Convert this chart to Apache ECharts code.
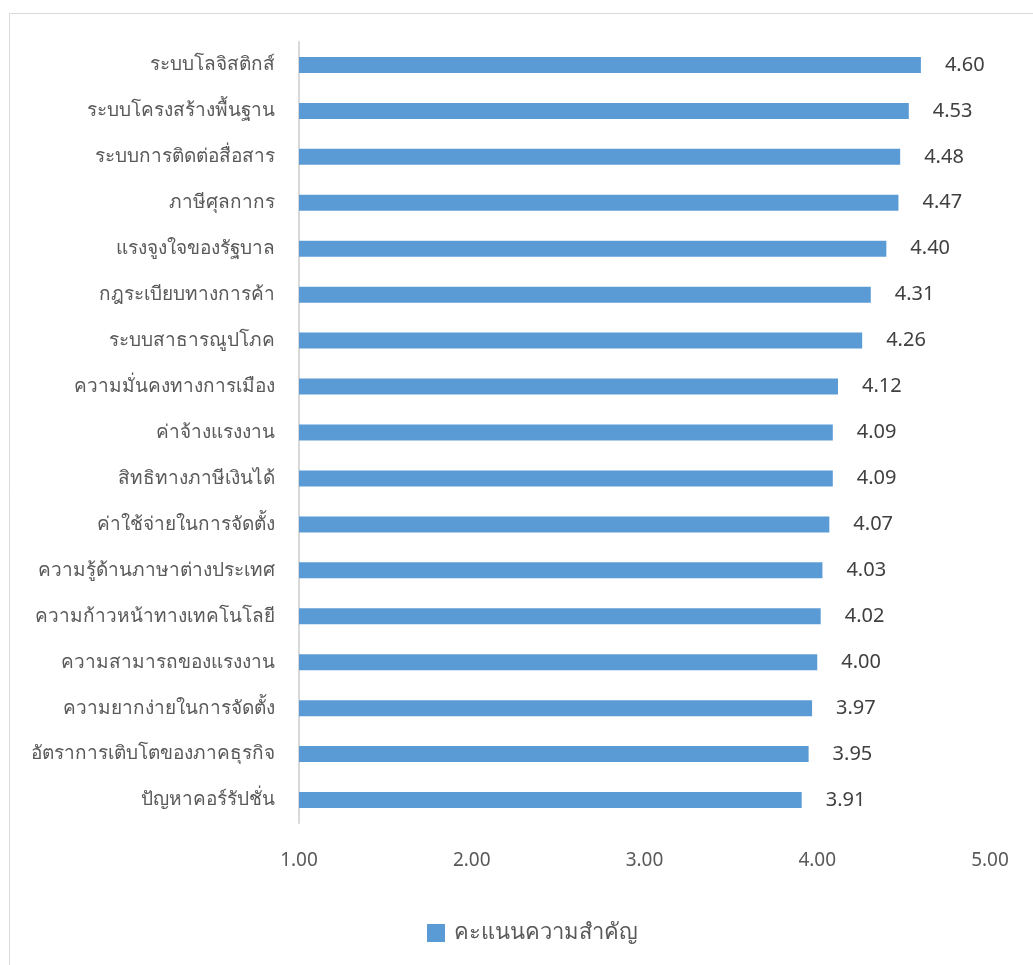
<!DOCTYPE html>
<html><head><meta charset="utf-8">
<script src="https://cdn.jsdelivr.net/npm/echarts@6/dist/echarts.min.js"></script>
<style>html,body{margin:0;padding:0;background:#fff;}#c{width:1033px;height:965px;}</style>
</head><body><div id="c"></div>
<script>
const categories = ['ระบบโลจิสติกส์','ระบบโครงสร้างพื้นฐาน','ระบบการติดต่อสื่อสาร','ภาษีศุลกากร','แรงจูงใจของรัฐบาล','กฎระเบียบทางการค้า','ระบบสาธารณูปโภค','ความมั่นคงทางการเมือง','ค่าจ้างแรงงาน','สิทธิทางภาษีเงินได้','ค่าใช้จ่ายในการจัดตั้ง','ความรู้ด้านภาษาต่างประเทศ','ความก้าวหน้าทางเทคโนโลยี','ความสามารถของแรงงาน','ความยากง่ายในการจัดตั้ง','อัตราการเติบโตของภาคธุรกิจ','ปัญหาคอร์รัปชั่น'];
const values = [4.60,4.53,4.48,4.47,4.40,4.31,4.26,4.12,4.09,4.09,4.07,4.03,4.02,4.00,3.97,3.95,3.91];
const seriesName = 'คะแนนความสำคัญ';
const xTicks = [1,2,3,4,5];
const font = '"Noto Sans", "Noto Sans CJK SC", "DejaVu Sans", sans-serif';
const chart = echarts.init(document.getElementById('c'));
chart.setOption({
  animation:false,
  textStyle:{fontFamily:font},
  graphic:[{type:'rect',shape:{x:9.5,y:13.5,width:1040,height:970},style:{fill:'none',stroke:'#d9d9d9',lineWidth:1},silent:true,z:-1}],
  grid:{left:299,right:43,top:42,height:781,containLabel:false},
  legend:{bottom:16,left:422,itemWidth:18,itemHeight:18,itemGap:10,icon:'rect',
    textStyle:{fontSize:22,color:'#595959',fontFamily:font,padding:[0,0,0,4]},data:[seriesName]},
  xAxis:{type:'value',min:xTicks[0],max:xTicks[xTicks.length-1],interval:1,
    axisLine:{show:false},axisTick:{show:false},splitLine:{show:false},
    axisLabel:{formatter:v=>v.toFixed(2),fontSize:19,color:'#595959',margin:28}},
  yAxis:{type:'category',inverse:true,data:categories,
    axisLine:{show:true,lineStyle:{color:'#d9d9d9',width:2}},axisTick:{show:false},
    axisLabel:{fontSize:19,color:'#595959',margin:24}},
  series:[{name:seriesName,type:'bar',data:values,barWidth:16,
    itemStyle:{color:'#5b9bd5'},
    label:{show:true,position:'right',distance:24,formatter:p=>p.value.toFixed(2),fontSize:20,color:'#404040'}}]
});
</script></body></html>
